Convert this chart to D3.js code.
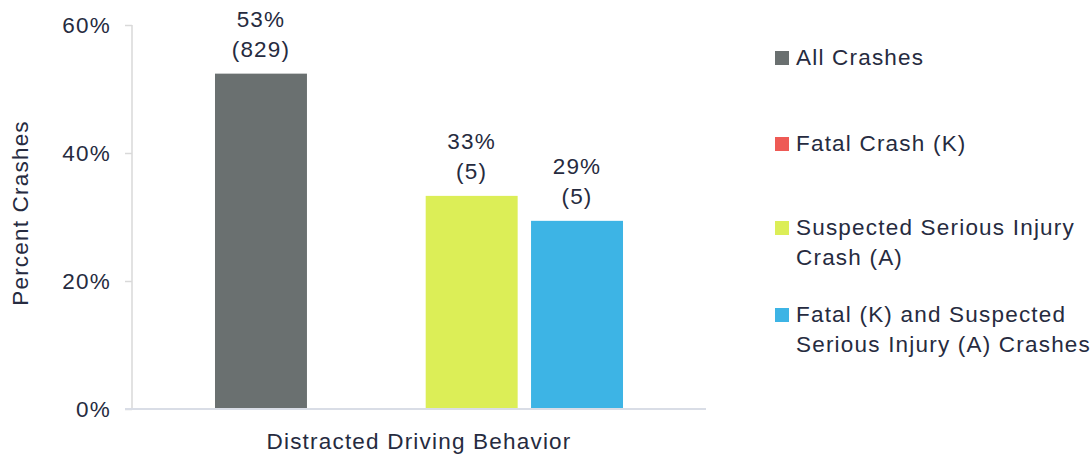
<!DOCTYPE html>
<html>
<head>
<meta charset="utf-8">
<script src="https://cdn.jsdelivr.net/npm/d3@7"></script>
<style>
  html, body { margin: 0; padding: 0; background: #ffffff; }
  svg text { font-family: "Liberation Sans", Arial, sans-serif; fill: #262b40; letter-spacing: 1.2px; }
</style>
</head>
<body>
<svg id="chart" width="1090" height="456"></svg>
<script>
// ---- data ----
const categories = ["Distracted Driving Behavior"];
const seriesNames = ["All Crashes", "Fatal Crash (K)", "Suspected Serious Injury Crash (A)", "Fatal (K) and Suspected Serious Injury (A) Crashes"];
const seriesValues = [52.4, 0, 33.3, 29.4];
const seriesCounts = [829, null, 5, 5];
const seriesLabels = ["53%", null, "33%", "29%"];
const seriesColors = ["#6a7070", "#ee5a55", "#dcee57", "#3db4e5"];
const legendLines = [["All Crashes"], ["Fatal Crash (K)"], ["Suspected Serious Injury", "Crash (A)"], ["Fatal (K) and Suspected", "Serious Injury (A) Crashes"]];
const yTicks = [0, 20, 40, 60];

// ---- layout ----
const FS = 22.5;
const svg = d3.select("#chart");
const plot = { left: 132, right: 706, top: 25, bottom: 409 };

const y = d3.scaleLinear().domain([0, 60]).range([plot.bottom, plot.top]);
const x0 = d3.scaleBand().domain(categories).range([plot.left, plot.right]).paddingInner(0).paddingOuter(0.2034);
const x1 = d3.scaleBand().domain(seriesNames).range([0, x0.bandwidth()]).paddingInner(0.127).paddingOuter(0);

// y axis line and ticks
const yAxis = d3.axisLeft(y).tickValues(yTicks).tickSize(7).tickPadding(14).tickFormat(d => d + "%");
const gy = svg.append("g").attr("transform", `translate(${plot.left},0)`).call(yAxis);
gy.select(".domain").attr("stroke", "#d9d9d9").attr("stroke-width", 1.5).attr("d", `M0,${plot.top}V${plot.bottom}`);
gy.selectAll(".tick line").attr("stroke", "#d9d9d9").attr("stroke-width", 1.5);
gy.selectAll(".tick text").attr("font-size", FS).attr("fill", "#262b40").style("font-family", "Liberation Sans, Arial, sans-serif");

// bars
const grp = svg.append("g").selectAll("g").data(categories).join("g")
  .attr("transform", d => `translate(${x0(d)},0)`);

const barData = seriesNames.map((s, i) => ({ s, v: seriesValues[i], c: seriesCounts[i], l: seriesLabels[i], col: seriesColors[i] }));

grp.selectAll("rect").data(barData).join("rect")
  .attr("x", d => x1(d.s))
  .attr("width", x1.bandwidth())
  .attr("y", d => y(d.v))
  .attr("height", d => y(0) - y(d.v))
  .attr("fill", d => d.col);

// labels
const lab = grp.selectAll("text.lab").data(barData.filter(d => d.l)).join("text")
  .attr("class", "lab")
  .attr("text-anchor", "middle")
  .attr("font-size", FS);
lab.append("tspan").attr("x", d => x1(d.s) + x1.bandwidth() / 2).attr("y", d => y(d.v) - 47).text(d => d.l);
lab.append("tspan").attr("x", d => x1(d.s) + x1.bandwidth() / 2).attr("y", d => y(d.v) - 17).text(d => `(${d.c})`);

// x axis line
svg.append("line").attr("x1", 125).attr("x2", plot.right).attr("y1", plot.bottom).attr("y2", plot.bottom)
  .attr("stroke", "#d9dde6").attr("stroke-width", 2);

// x category label
svg.append("text").attr("x", x0(categories[0]) + x0.bandwidth() / 2).attr("y", 449)
  .attr("text-anchor", "middle").attr("font-size", FS).text(categories[0]);

// y title
svg.append("text").attr("transform", `translate(28,${(plot.top + plot.bottom) / 2 - 4}) rotate(-90)`)
  .attr("text-anchor", "middle").attr("font-size", FS).text("Percent Crashes");

// legend
const legendY = [65, 151, 235, 322];
const lg = svg.append("g").selectAll("g").data(seriesNames).join("g")
  .attr("transform", (d, i) => `translate(775,${legendY[i]})`);
lg.append("rect").attr("x", 0).attr("y", -14).attr("width", 14).attr("height", 14)
  .attr("fill", (d, i) => seriesColors[i]);
const lt = lg.append("text").attr("font-size", FS);
lt.selectAll("tspan").data((d, i) => legendLines[i]).join("tspan")
  .attr("x", 21).attr("y", (d, j) => j * 29.5).text(d => d);
</script>
</body>
</html>
